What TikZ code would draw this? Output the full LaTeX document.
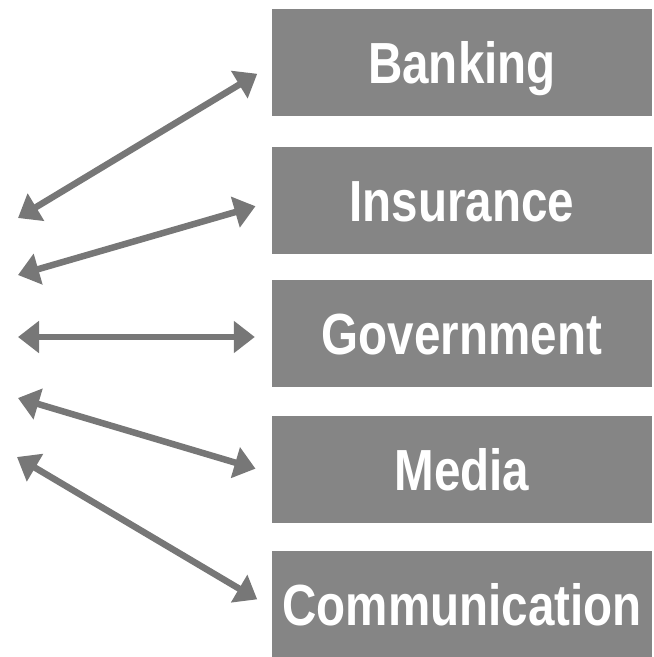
\documentclass[tikz,border=0pt]{standalone}
\usepackage{fontspec}
\setmainfont{Liberation Sans}[FakeStretch=0.82]
\usetikzlibrary{arrows.meta}
\definecolor{boxgray}{HTML}{858585}
\definecolor{arrowgray}{HTML}{777777}

\begin{document}
\begin{tikzpicture}[x=1pt,y=-1pt,
  sector/.style={fill=boxgray,text=white,minimum width=380,minimum height=107,
    inner sep=0pt,text height=41pt,text depth=0pt,
    font=\fontsize{58}{60}\selectfont\bfseries},
  link/.style={arrowgray,line width=6.5pt,{Triangle[length=21pt,width=31pt]}-{Triangle[length=21pt,width=31pt]},shorten >=17pt}]
\useasboundingbox (0,0) rectangle (654,657);

\node[sector] (bank) at (462,62.5) {Banking};
\node[sector] (insur) at (462,200.5) {Insurance};
\node[sector] (govt) at (462,333.5) {Government};
\node[sector] (media) at (462,469.5) {Media};
\node[sector] (comm) at (462,604.5) {Communication};

\coordinate (l1) at (18,218);
\coordinate (l2) at (18,275);
\coordinate (l3) at (18,337);
\coordinate (l4) at (18,398);
\coordinate (l5) at (17,457);

\draw[link] (l1) -- ([yshift=-2.5pt]bank.west);
\draw[link] (l2) -- ([yshift=-1pt]insur.west);
\draw[link] (l3) -- ([yshift=-3.5pt]govt.west);
\draw[link] (l4) -- ([yshift=-4pt]media.west);
\draw[link] (l5) -- ([yshift=-3.5pt]comm.west);

\end{tikzpicture}
\end{document}
